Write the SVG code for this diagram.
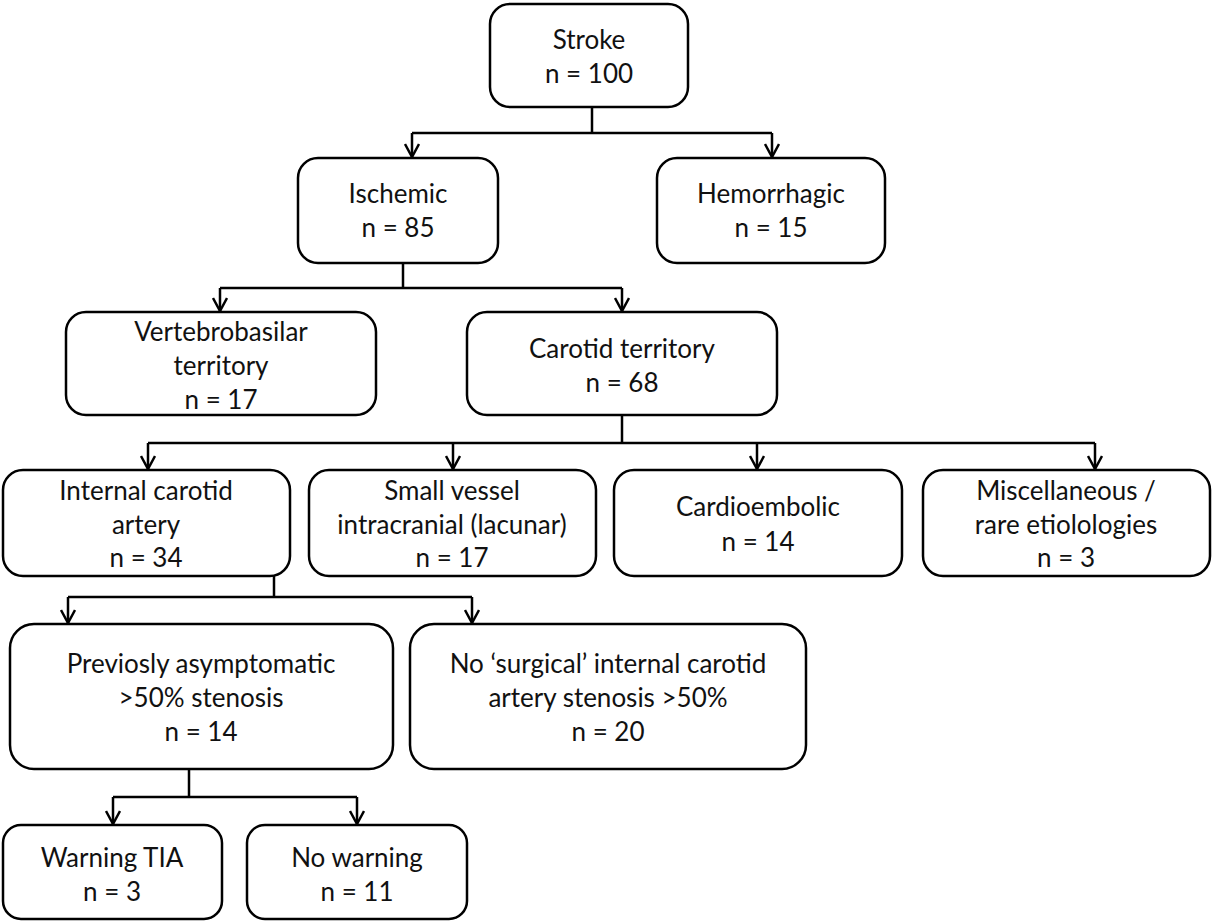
<svg xmlns="http://www.w3.org/2000/svg" width="1212" height="921" viewBox="0 0 1212 921">
<style>
.box{fill:#fff;stroke:#000;stroke-width:2.5}
.t{font-family:Lato,"Liberation Sans",sans-serif;font-size:26px;fill:#111;text-anchor:middle}
.c{fill:none;stroke:#000;stroke-width:2.5}
</style>
<defs>
<marker id="ah" viewBox="0 0 16 16" refX="14" refY="8" markerWidth="16" markerHeight="16" markerUnits="userSpaceOnUse" orient="auto">
<path d="M1,1 L14,8 L1,15" fill="none" stroke="#000" stroke-width="2.5"/>
</marker>
</defs>
<rect width="1212" height="921" fill="#fff"/>
<g id="connectors">
<path class="c" d="M592,107 V133"/>
<path class="c" d="M412,133 H772"/>
<path class="c" d="M412,133 V157" marker-end="url(#ah)"/>
<path class="c" d="M772,133 V157" marker-end="url(#ah)"/>
<path class="c" d="M403,263 V288"/>
<path class="c" d="M220,288 H622"/>
<path class="c" d="M220,288 V311" marker-end="url(#ah)"/>
<path class="c" d="M622,288 V311" marker-end="url(#ah)"/>
<path class="c" d="M622,415 V443"/>
<path class="c" d="M148,443 H1095"/>
<path class="c" d="M148,443 V469" marker-end="url(#ah)"/>
<path class="c" d="M453,443 V469" marker-end="url(#ah)"/>
<path class="c" d="M757,443 V469" marker-end="url(#ah)"/>
<path class="c" d="M1095,443 V469" marker-end="url(#ah)"/>
<path class="c" d="M274,576 V597"/>
<path class="c" d="M68,597 H472"/>
<path class="c" d="M68,597 V623" marker-end="url(#ah)"/>
<path class="c" d="M472,597 V623" marker-end="url(#ah)"/>
<path class="c" d="M189,769 V797"/>
<path class="c" d="M113,797 H357"/>
<path class="c" d="M113,797 V824" marker-end="url(#ah)"/>
<path class="c" d="M357,797 V824" marker-end="url(#ah)"/>
</g>
<g id="stroke"><rect class="box" x="490" y="4" width="198" height="103" rx="20"/>
<text class="t" x="589" y="49">Stroke</text><text class="t" x="589" y="83">n = 100</text></g>
<g id="ischemic"><rect class="box" x="298" y="158" width="200" height="105" rx="20"/>
<text class="t" x="398" y="203">Ischemic</text><text class="t" x="398" y="237">n = 85</text></g>
<g id="hemorrhagic"><rect class="box" x="657" y="158" width="228" height="105" rx="20"/>
<text class="t" x="771" y="203">Hemorrhagic</text><text class="t" x="771" y="237">n = 15</text></g>
<g id="vertebrobasilar"><rect class="box" x="66" y="312" width="310" height="103" rx="20"/>
<text class="t" x="221" y="341">Vertebrobasilar</text><text class="t" x="221" y="375">territory</text><text class="t" x="221" y="409">n = 17</text></g>
<g id="carotid"><rect class="box" x="467" y="312" width="310" height="103" rx="20"/>
<text class="t" x="622" y="358">Carotid territory</text><text class="t" x="622" y="392">n = 68</text></g>
<g id="ica"><rect class="box" x="3" y="470" width="287" height="106" rx="20"/>
<text class="t" x="146" y="500">Internal carotid</text><text class="t" x="146" y="534">artery</text><text class="t" x="146" y="567">n = 34</text></g>
<g id="smallvessel"><rect class="box" x="309" y="470" width="287" height="106" rx="20"/>
<text class="t" x="452" y="500">Small vessel</text><text class="t" x="452" y="534">intracranial (lacunar)</text><text class="t" x="452" y="567">n = 17</text></g>
<g id="cardioembolic"><rect class="box" x="614" y="470" width="288" height="106" rx="20"/>
<text class="t" x="758" y="516">Cardioembolic</text><text class="t" x="758" y="551">n = 14</text></g>
<g id="misc"><rect class="box" x="923" y="470" width="287" height="106" rx="20"/>
<text class="t" x="1066" y="500">Miscellaneous /</text><text class="t" x="1066" y="534">rare etiolologies</text><text class="t" x="1066" y="567">n = 3</text></g>
<g id="asymptomatic"><rect class="box" x="10" y="624" width="383" height="145" rx="24"/>
<text class="t" x="201" y="673">Previosly asymptomatic</text><text class="t" x="201" y="707">&gt;50% stenosis</text><text class="t" x="201" y="741">n = 14</text></g>
<g id="nosurgical"><rect class="box" x="410" y="624" width="396" height="145" rx="24"/>
<text class="t" x="608" y="673">No ‘surgical’ internal carotid</text><text class="t" x="608" y="707">artery stenosis &gt;50%</text><text class="t" x="608" y="741">n = 20</text></g>
<g id="warningtia"><rect class="box" x="3" y="825" width="219" height="94" rx="18"/>
<text class="t" x="112" y="867">Warning TIA</text><text class="t" x="112" y="901">n = 3</text></g>
<g id="nowarning"><rect class="box" x="247" y="825" width="220" height="94" rx="18"/>
<text class="t" x="357" y="867">No warning</text><text class="t" x="357" y="901">n = 11</text></g>
</svg>
